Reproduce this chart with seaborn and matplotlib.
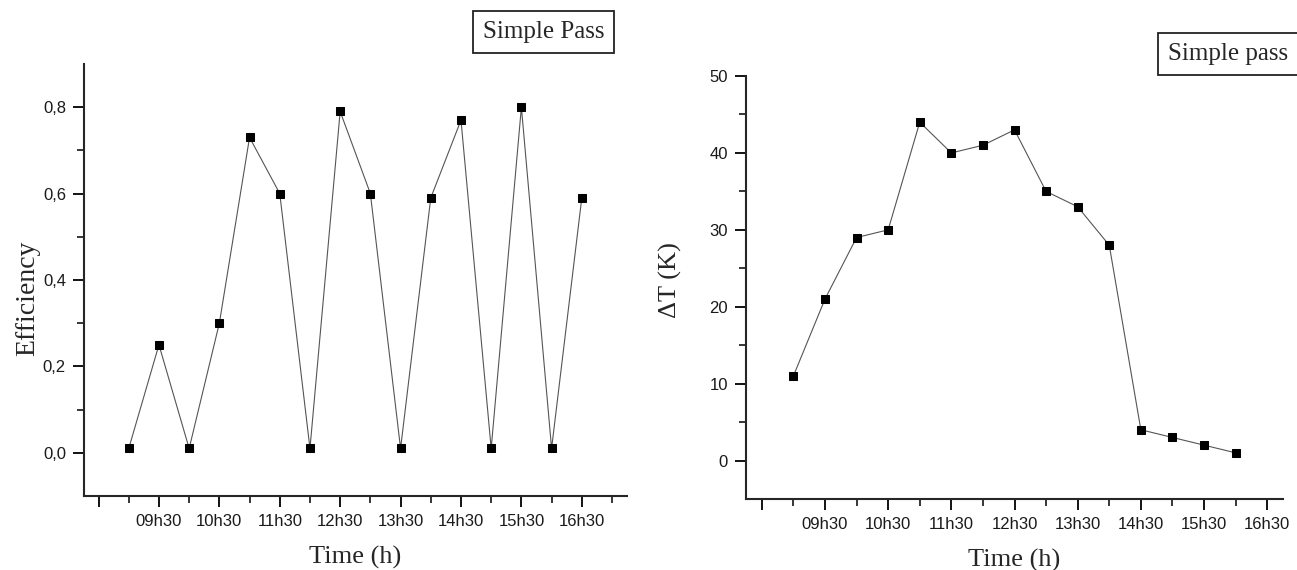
"""Efficiency and temperature rise over the day, simple pass."""

import matplotlib

matplotlib.use("Agg")
import matplotlib.pyplot as plt
import pandas as pd
import seaborn as sns
from matplotlib.ticker import FixedLocator

# data
hours_eff = [9.0, 9.5, 10.0, 10.5, 11.0, 11.5, 12.0, 12.5,
             13.0, 13.5, 14.0, 14.5, 15.0, 15.5, 16.0, 16.5]
efficiency = [0.01, 0.25, 0.01, 0.30, 0.73, 0.60, 0.01, 0.79,
              0.60, 0.01, 0.59, 0.77, 0.01, 0.80, 0.01, 0.59]

hours_dt = [9.0, 9.5, 10.0, 10.5, 11.0, 11.5, 12.0, 12.5,
            13.0, 13.5, 14.0, 14.5, 15.0, 15.5, 16.0]
delta_t = [11, 21, 29, 30, 44, 40, 41, 43, 35, 33, 28, 4, 3, 2, 1]

x_major = [8.5, 9.5, 10.5, 11.5, 12.5, 13.5, 14.5, 15.5, 16.5]
x_labels = ["", "09h30", "10h30", "11h30", "12h30", "13h30", "14h30", "15h30", "16h30"]

eff_ticks = [0.0, 0.2, 0.4, 0.6, 0.8]
eff_labels = ["0,0", "0,2", "0,4", "0,6", "0,8"]
dt_ticks = [0, 10, 20, 30, 40, 50]

SERIF = ["Liberation Serif", "DejaVu Serif"]
SANS = ["Liberation Sans", "DejaVu Sans"]


def style_axis(ax, minor_x, minor_y):
    sns.despine(ax=ax)
    for side in ("left", "bottom"):
        ax.spines[side].set_linewidth(1.5)
    ax.xaxis.set_major_locator(FixedLocator(x_major))
    ax.set_xticklabels(x_labels)
    ax.xaxis.set_minor_locator(FixedLocator(minor_x))
    ax.yaxis.set_minor_locator(FixedLocator(minor_y))
    ax.tick_params(axis="both", which="major", direction="out", length=8, width=1.3,
                   pad=5, labelsize=12, colors="black")
    ax.tick_params(axis="both", which="minor", direction="out", length=5, width=1.3)
    for lab in ax.get_xticklabels() + ax.get_yticklabels():
        lab.set_family(SANS)
        lab.set_color("#1a1a1a")
    ax.grid(False)


def draw_series(ax, x, y):
    df = pd.DataFrame({"x": x, "y": y})
    sns.lineplot(data=df, x="x", y="y", ax=ax, color="#555555", linewidth=0.8,
                 marker="s", markersize=6, markerfacecolor="black",
                 markeredgecolor="black", legend=False)


def label_box(fig, text, x, y):
    fig.text(x, y, text, family=SERIF, fontsize=18, ha="right", va="center",
             bbox=dict(boxstyle="square,pad=0.4", facecolor="white",
                       edgecolor="#222222", linewidth=1.3))


def main():
    sns.set_style("ticks")
    fig = plt.figure(figsize=(12.97, 5.70), dpi=100)

    ax1 = fig.add_axes([0.0648, 0.1298, 0.4187, 0.758])
    draw_series(ax1, hours_eff, efficiency)
    ax1.set_xlim(8.26, 17.25)
    ax1.set_ylim(-0.1, 0.9)
    ax1.set_yticks(eff_ticks)
    ax1.set_yticklabels(eff_labels)
    style_axis(ax1, [9, 10, 11, 12, 13, 14, 15, 16, 17], [0.1, 0.3, 0.5, 0.7])
    ax1.set_xlabel("Time (h)", family=SERIF, fontsize=19, labelpad=12)
    ax1.set_ylabel("Efficiency", family=SERIF, fontsize=20)
    ax1.yaxis.set_label_coords(-0.08, 0.458)

    ax2 = fig.add_axes([0.5752, 0.1246, 0.414, 0.742])
    draw_series(ax2, hours_dt, delta_t)
    ax2.set_xlim(8.25, 16.75)
    ax2.set_ylim(-5, 50)
    ax2.set_yticks(dt_ticks)
    style_axis(ax2, [9, 10, 11, 12, 13, 14, 15, 16], [5, 15, 25, 35, 45])
    ax2.set_xlabel("Time (h)", family=SERIF, fontsize=19, labelpad=12)
    ax2.set_ylabel("ΔT (K)", family=SERIF, fontsize=19)
    ax2.yaxis.set_label_coords(-0.12, 0.518)

    label_box(fig, "Simple Pass", 0.466, 0.943)
    label_box(fig, "Simple pass", 0.993, 0.905)

    fig.savefig("out.png", dpi=100)
    plt.close(fig)


if __name__ == "__main__":
    main()
